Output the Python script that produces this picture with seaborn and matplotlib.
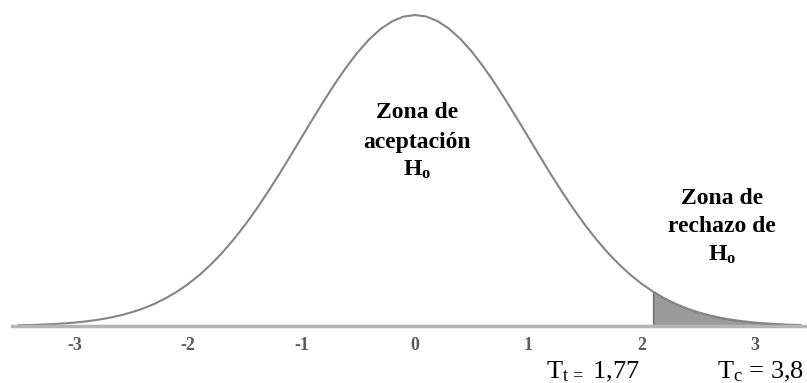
import numpy as np
import matplotlib
matplotlib.use("Agg")
import matplotlib.pyplot as plt
import seaborn as sns

# Standard normal curve, heights
x_vals = [-3.5, -3.4, -3.3, -3.2, -3.1, -3.0, -2.9, -2.8, -2.7, -2.6, -2.5, -2.4,
          -2.3, -2.2, -2.1, -2.0, -1.9, -1.8, -1.7, -1.6, -1.5, -1.4, -1.3, -1.2,
          -1.1, -1.0, -0.9, -0.8, -0.7, -0.6, -0.5, -0.4, -0.3, -0.2, -0.1, 0.0,
          0.1, 0.2, 0.3, 0.4, 0.5, 0.6, 0.7, 0.8, 0.9, 1.0, 1.1, 1.2,
          1.3, 1.4, 1.5, 1.6, 1.7, 1.8, 1.9, 2.0, 2.1, 2.2, 2.3, 2.4,
          2.5, 2.6, 2.7, 2.8, 2.9, 3.0, 3.1, 3.2, 3.3, 3.4]
density = [0.0009, 0.0012, 0.0017, 0.0024, 0.0033, 0.0044, 0.0060, 0.0079, 0.0104, 0.0136, 0.0175, 0.0224,
           0.0283, 0.0355, 0.0440, 0.0540, 0.0656, 0.0790, 0.0940, 0.1109, 0.1295, 0.1497, 0.1714, 0.1942,
           0.2179, 0.2420, 0.2661, 0.2897, 0.3123, 0.3332, 0.3521, 0.3683, 0.3814, 0.3910, 0.3970, 0.3989,
           0.3970, 0.3910, 0.3814, 0.3683, 0.3521, 0.3332, 0.3123, 0.2897, 0.2661, 0.2420, 0.2179, 0.1942,
           0.1714, 0.1497, 0.1295, 0.1109, 0.0940, 0.0790, 0.0656, 0.0540, 0.0440, 0.0355, 0.0283, 0.0224,
           0.0175, 0.0136, 0.0104, 0.0079, 0.0060, 0.0044, 0.0033, 0.0024, 0.0017, 0.0012]
reject_from = 2.1
tick_vals = [-3, -2, -1, 0, 1, 2, 3]
tick_labels = ["-3", "-2", "-1", "0", "1", "2", "3"]

sns.set_style("white")
plt.rcParams['font.family'] = ['Liberation Serif', 'DejaVu Serif']
plt.rcParams['mathtext.fontset'] = 'custom'
plt.rcParams['mathtext.rm'] = 'Liberation Serif'
plt.rcParams['mathtext.it'] = 'Liberation Serif:italic'
plt.rcParams['mathtext.bf'] = 'Liberation Serif:bold'

fig = plt.figure(figsize=(8.07, 3.83), dpi=100)
ax = fig.add_axes([0, 0, 1, 1])

x = np.array(x_vals)
y = np.array(density)

# shaded rejection region
mask = x >= reject_from
ax.fill_between(x[mask], 0, y[mask], color='#9a9a9a', edgecolor='#6a6a6a', linewidth=1.0)

sns.lineplot(x=x, y=y, ax=ax, color='#858585', linewidth=1.5)

ax.set_xlim(-3.66, 3.457)
ax.set_ylim(-0.0731, 0.4182)

# horizontal axis through y=0
for s in ['top', 'right', 'left']:
    ax.spines[s].set_visible(False)
ax.spines['bottom'].set_position(('data', 0))
ax.spines['bottom'].set_bounds(-3.55, 3.46)
ax.spines['bottom'].set_color('#b5b5b5')
ax.spines['bottom'].set_linewidth(2.5)
ax.set_xticks(tick_vals)
ax.set_xticklabels(tick_labels, fontweight='bold')
ax.set_yticks([])
ax.tick_params(axis='x', direction='out', length=4, width=1, color='#9a9a9a',
               labelsize=13, labelcolor='#5a5a5a', pad=4)
ax.set_xlabel("")
ax.set_ylabel("")


def px(xp, yp):
    return xp / 807, 1 - yp / 383


# acceptance zone label
for line, yp in [("Zona de", 113), ("aceptación", 142), (r"$\mathbf{H_o}$", 170)]:
    ax.text(*px(417, yp), line, transform=ax.transAxes, ha='center', va='center',
            fontsize=17, fontweight='bold', color='black')

# rejection zone label
for line, yp in [("Zona de", 198), ("rechazo de", 227), (r"$\mathbf{H_o}$", 255)]:
    ax.text(*px(722, yp), line, transform=ax.transAxes, ha='center', va='center',
            fontsize=17, fontweight='bold', color='black')

ax.text(*px(593, 378), r"T$_{\mathrm{t\,=}}$ 1,77", transform=ax.transAxes,
        ha='center', va='baseline', fontsize=19, color='black')
ax.text(*px(761, 378), r"T$_{\mathrm{c}}$ = 3,8", transform=ax.transAxes,
        ha='center', va='baseline', fontsize=19, color='black')

fig.savefig("out.png", dpi=100)
